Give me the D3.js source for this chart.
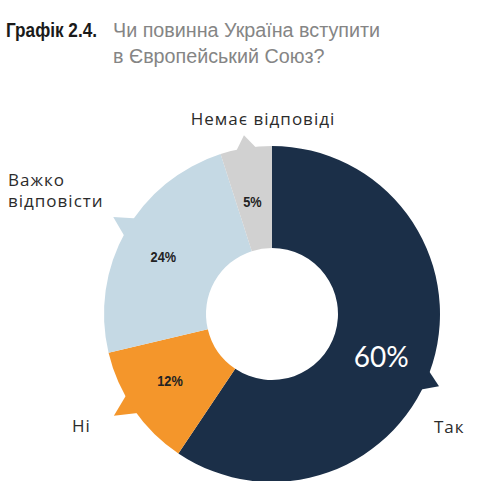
<!DOCTYPE html>
<html>
<head>
<meta charset="utf-8">
<script src="https://cdn.jsdelivr.net/npm/d3@7"></script>
<style>
  html, body { margin: 0; padding: 0; background: #ffffff; }
  svg { display: block; }
</style>
</head>
<body>
<svg id="chart" width="500" height="481"></svg>
<script>
// ---- data ----
const categories = ["Так", "Ні", "Важко відповісти", "Немає відповіді"];
const values = [60, 12, 24, 5];
const valueLabels = ["60%", "12%", "24%", "5%"];
const colors = ["#1b2f48", "#f4962b", "#c5d9e4", "#d1d1d1"];
const titleLabel = "Графік 2.4.";
const titleLines = ["Чи повинна Україна вступити", "в Європейський Союз?"];

// ---- layout ----
const cx = 272, cy = 314;
const innerR = 66, outerR = 168;
const deg = Math.PI / 180;

const svg = d3.select("#chart");

// title (condensed via horizontal scale)
svg.append("text")
  .attr("transform", "translate(6,37) scale(0.86,1)")
  .attr("font-family", "'Liberation Sans', Arial, sans-serif")
  .attr("font-weight", "bold")
  .attr("font-size", 20)
  .attr("fill", "#1a1a1a")
  .text(titleLabel);

svg.append("g").selectAll("text")
  .data(titleLines)
  .join("text")
  .attr("transform", (d, i) => `translate(113,${37 + i * 26}) scale(0.94,1)`)
  .attr("font-family", "'Liberation Sans', Arial, sans-serif")
  .attr("font-size", 21)
  .attr("fill", "#858585")
  .text(d => d);

// pie
const pie = d3.pie().sort(null).value(d => d.v);
const data = categories.map((c, i) => ({ c, v: values[i], label: valueLabels[i], color: colors[i] }));
const arcs = pie(data);
const arc = d3.arc().innerRadius(innerR).outerRadius(outerR);

const g = svg.append("g").attr("transform", `translate(${cx},${cy})`);

// small callout pointers on the outer edge, toward each label
const pointerOffset = [6.5 * deg, 2 * deg, 2 * deg, 0];
const pointerTip = [182, 188, 186, 181];
const halfBase = 4 * deg;
const polar = (a, r) => [Math.sin(a) * r, -Math.cos(a) * r];
g.selectAll("path.ptr")
  .data(arcs)
  .join("path")
  .attr("class", "ptr")
  .attr("d", (d, i) => {
    const a = (d.startAngle + d.endAngle) / 2 + pointerOffset[i];
    return d3.line()([polar(a - halfBase, outerR - 3), polar(a, pointerTip[i]), polar(a + halfBase, outerR - 3)]) + "Z";
  })
  .attr("fill", d => d.data.color);

g.selectAll("path.slice")
  .data(arcs)
  .join("path")
  .attr("class", "slice")
  .attr("d", arc)
  .attr("fill", d => d.data.color);

// value labels
const labelR = [117, 122, 123, 114];
const labelAngleOffset = [4 * deg, 1.5 * deg, -1.5 * deg, -1 * deg];
g.selectAll("text.val")
  .data(arcs)
  .join("text")
  .attr("class", "val")
  .attr("x", (d, i) => polar((d.startAngle + d.endAngle) / 2 + labelAngleOffset[i], labelR[i])[0])
  .attr("y", (d, i) => polar((d.startAngle + d.endAngle) / 2 + labelAngleOffset[i], labelR[i])[1])
  .attr("text-anchor", "middle")
  .attr("dominant-baseline", "central")
  .attr("font-family", (d, i) => i === 0 ? "Lato, 'Open Sans', sans-serif" : "'Liberation Sans', Arial, sans-serif")
  .attr("font-weight", (d, i) => i === 0 ? "normal" : "bold")
  .attr("font-size", (d, i) => i === 0 ? 28 : 15)
  .attr("transform", (d, i) => {
    if (i === 0) return null;
    const p = polar((d.startAngle + d.endAngle) / 2 + labelAngleOffset[i], labelR[i]);
    return `translate(${p[0]},${p[1]}) scale(0.85,1) translate(${-p[0]},${-p[1]})`;
  })
  .attr("fill", (d, i) => i === 0 ? "#ffffff" : "#222222")
  .text(d => d.data.label);

// category labels (one text element per line)
const catLabels = [
  { lines: ["Так"], x: 434, y: 433, anchor: "start" },
  { lines: ["Ні"], x: 72, y: 432, anchor: "start" },
  { lines: ["Важко", "відповісти"], x: 8, y: 186, anchor: "start" },
  { lines: ["Немає відповіді"], x: 263, y: 125, anchor: "middle" }
];
catLabels.forEach((L) => {
  L.lines.forEach((ln, j) => {
    svg.append("text")
      .attr("x", L.x)
      .attr("y", L.y + j * 21)
      .attr("font-family", "'Open Sans', 'Noto Sans', sans-serif")
      .attr("font-size", 17)
      .attr("letter-spacing", 1)
      .attr("fill", "#2b2b2b")
      .attr("text-anchor", L.anchor)
      .text(ln);
  });
});
</script>
</body>
</html>
